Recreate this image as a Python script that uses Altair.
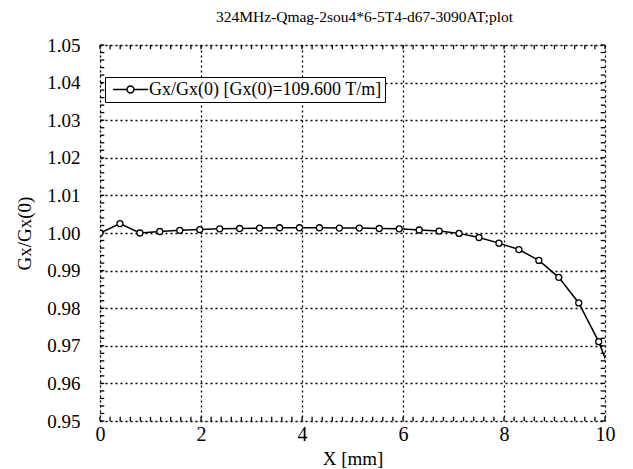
import altair as alt
import pandas as pd

# Field gradient profile along X, normalised to the on-axis value
x_mm = [0.0, 0.395, 0.79, 1.185, 1.58, 1.975, 2.37, 2.765, 3.16, 3.555,
        3.95, 4.345, 4.74, 5.135, 5.53, 5.925, 6.32, 6.715, 7.11, 7.505,
        7.90, 8.295, 8.69, 9.085, 9.48, 9.875, 10.27]
gx_ratio = [1.0000, 1.0025, 1.0000, 1.0004, 1.0007, 1.0009, 1.0011, 1.0012,
            1.0013, 1.0014, 1.0014, 1.0014, 1.0013, 1.0013, 1.0012, 1.0011,
            1.0008, 1.0005, 0.9999, 0.9988, 0.9973, 0.9956, 0.9927, 0.9882,
            0.9814, 0.9711, 0.9575]
series_name = "Gx/Gx(0) [Gx(0)=109.600 T/m]"
title_text = "324MHz-Qmag-2sou4*6-5T4-d67-3090AT;plot"

x_major = [0, 2, 4, 6, 8, 10]
y_major = [0.95, 0.96, 0.97, 0.98, 0.99, 1.00, 1.01, 1.02, 1.03, 1.04, 1.05]

X_MIN, X_MAX = 0.0, 10.0
Y_MIN, Y_MAX = 0.95, 1.05

FONT = "Liberation Serif"

df = pd.DataFrame({"x": x_mm, "y": gx_ratio, "series": [series_name] * len(x_mm)})

# inward-pointing minor ticks on all four sides of the frame
x_minor = [round(0.2 * i, 2) for i in range(0, 51)]
y_minor = [round(0.95 + 0.002 * i, 4) for i in range(0, 51)]
tx_len = 0.0011   # tick length in y units
ty_len = 0.085    # tick length in x units
xt = pd.DataFrame(
    [{"x": v, "y0": Y_MIN, "y1": Y_MIN + tx_len} for v in x_minor]
    + [{"x": v, "y0": Y_MAX, "y1": Y_MAX - tx_len} for v in x_minor]
)
yt = pd.DataFrame(
    [{"y": v, "x0": X_MIN, "x1": X_MIN + ty_len} for v in y_minor]
    + [{"y": v, "x0": X_MAX, "x1": X_MAX - ty_len} for v in y_minor]
)

xscale = alt.Scale(domain=[X_MIN, X_MAX], nice=False, zero=False)
yscale = alt.Scale(domain=[Y_MIN, Y_MAX], nice=False, zero=False)

x_axis = alt.Axis(
    values=x_major, tickCount=20, format="d", title="X [mm]", ticks=False, domain=False,
    grid=True, gridDash=[2, 3], gridColor="black", gridWidth=1.3, gridOpacity=1,
    labelFont=FONT, labelFontSize=20, labelColor="black", labelPadding=3,
    labelFlush=False, labelOverlap=False,
    titleFont=FONT, titleFontSize=19, titleFontWeight="normal", titleColor="black",
    titleY=37, titleBaseline="middle",
)
y_axis = alt.Axis(
    values=y_major, tickCount=20, format=".2f", title="Gx/Gx(0)", ticks=False, domain=False,
    grid=True, gridDash=[2, 3], gridColor="black", gridWidth=1.3, gridOpacity=1,
    labelFont=FONT, labelFontSize=19, labelColor="black", labelPadding=20,
    labelFlush=False, labelOverlap=False,
    titleFont=FONT, titleFontSize=19, titleFontWeight="normal", titleColor="black",
    titleX=-76, titleY=188, titleAngle=-90, titleBaseline="middle", titleAlign="center",
)

color = alt.Color(
    "series:N",
    scale=alt.Scale(range=["black"]),
    legend=alt.Legend(
        title=None, orient="none", legendX=5, legendY=32,
        symbolType="M-2,0H-0.4M0.4,0H2M0.4,0A0.4,0.4,0,1,1,-0.4,0A0.4,0.4,0,1,1,0.4,0",
        symbolSize=306, symbolStrokeWidth=1.4, symbolStrokeColor="black",
        symbolFillColor="white", symbolOffset=13,
        labelFont=FONT, labelFontSize=18, labelColor="black", labelLimit=400,
        labelOffset=9,
        strokeColor="black", fillColor="white",
        padding=3, cornerRadius=0,
    ),
)

base = alt.Chart(df)

curve = base.mark_line(strokeWidth=1.5, clip=True).encode(
    x=alt.X("x:Q", scale=xscale, axis=x_axis),
    y=alt.Y("y:Q", scale=yscale, axis=y_axis),
    color=color,
)
markers = base.mark_point(
    shape="circle", filled=False, size=36, strokeWidth=1.3, fill="white",
    fillOpacity=1, clip=True,
).encode(x="x:Q", y="y:Q", color=color)

xticks = alt.Chart(xt).mark_rule(color="black", strokeWidth=1.3).encode(
    x="x:Q", y="y0:Q", y2="y1:Q"
)
yticks = alt.Chart(yt).mark_rule(color="black", strokeWidth=1.3).encode(
    y="y:Q", x="x0:Q", x2="x1:Q"
)

chart = (
    alt.layer(xticks, yticks, curve, markers)
    .properties(
        width=505, height=376,
        autosize=alt.AutoSizeParams(type="none"),
        padding={"left": 100, "top": 45, "right": 28, "bottom": 48},
        title=alt.TitleParams(
            text=title_text, font=FONT, fontSize=15.5, fontWeight="normal",
            color="black", anchor="middle", offset=11, dx=12,
        ),
    )
    .configure_view(stroke="black", strokeWidth=3)
    .configure_legend(strokeWidth=2)
    .configure(background="white")
)

chart.save("out.html", embed_options={"renderer": "svg", "actions": False})
